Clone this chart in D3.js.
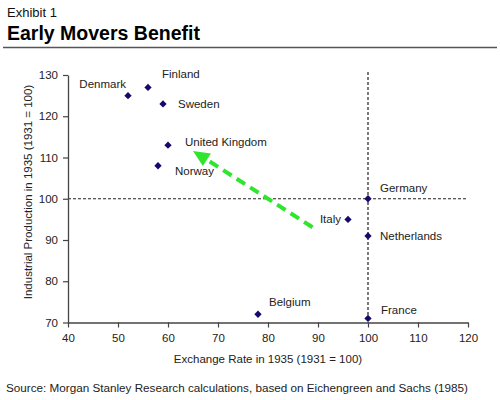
<!DOCTYPE html>
<html>
<head>
<meta charset="utf-8">
<script src="https://cdn.jsdelivr.net/npm/d3@7"></script>
<style>
  body { margin: 0; background: #fff; }
  svg { display: block; font-family: "Liberation Sans", Arial, sans-serif; }
</style>
</head>
<body>
<div id="chart"></div>
<script>
const countries = ['Denmark', 'Finland', 'Sweden', 'United Kingdom', 'Norway', 'Germany', 'Italy', 'Netherlands', 'Belgium', 'France'];
const exchangeRate = [52, 56, 59, 60, 58, 100, 96, 100, 78, 100];
const industrialProduction = [125, 127, 123, 113, 108, 100, 95, 91, 72, 71];

const xTicks = [40, 50, 60, 70, 80, 90, 100, 110, 120];
const yTicks = [70, 80, 90, 100, 110, 120, 130];

// reference lines at the 1931 level and the trend arrow (data units)
const refX = 100;
const refY = 100;
const arrowFrom = [88.9, 93.1];
const arrowTo = [65, 111.6];

const width = 500,
      height = 400,
      margins = { top: 75, right: 32, bottom: 77.5, left: 68 };

// where each label sits against its marker, in px
const labelPlace = {
  'Denmark': { dx: -2, dy: -8, anchor: 'end' },
  'Finland': { dx: 14, dy: -9, anchor: 'start' },
  'Sweden': { dx: 15, dy: 4, anchor: 'start' },
  'United Kingdom': { dx: 17, dy: 1, anchor: 'start' },
  'Norway': { dx: 17, dy: 9, anchor: 'start' },
  'Germany': { dx: 12, dy: -7, anchor: 'start' },
  'Italy': { dx: -7, dy: 4, anchor: 'end' },
  'Netherlands': { dx: 12, dy: 4, anchor: 'start' },
  'Belgium': { dx: 11, dy: -8, anchor: 'start' },
  'France': { dx: 13, dy: -4, anchor: 'start' }
};

const fontSize = '11.5px';

let $svg, $plot, x, y;

function constructChart() {
  let points = countries.map((c, i) => ({ name: c, x: exchangeRate[i], y: industrialProduction[i] }));

  x = d3.scaleLinear()
    .domain([40, 120])
    .range([margins.left, width - margins.right]);

  y = d3.scaleLinear()
    .domain([70, 130])
    .range([height - margins.bottom, margins.top]);

  $svg = d3.select('#chart').append('svg')
    .attr('width', width)
    .attr('height', height);

  // header
  $svg.append('text')
    .attr('x', 7).attr('y', 17)
    .style('font-size', '13px')
    .style('fill', '#111')
    .text('Exhibit 1');

  $svg.append('text')
    .attr('x', 7).attr('y', 40)
    .style('font-size', '19.5px')
    .style('font-weight', 'bold')
    .style('fill', '#000')
    .text('Early Movers Benefit');

  $svg.append('line')
    .attr('x1', 3).attr('x2', 497)
    .attr('y1', 47.5).attr('y2', 47.5)
    .style('stroke', '#555')
    .style('stroke-width', 1.5);

  $plot = $svg.append('g');

  // dotted reference lines
  $plot.append('line')
    .attr('x1', x(40)).attr('x2', x(120))
    .attr('y1', y(refY)).attr('y2', y(refY))
    .style('stroke', '#222')
    .style('stroke-width', 1.2)
    .style('stroke-dasharray', '3,2');

  $plot.append('line')
    .attr('x1', x(refX)).attr('x2', x(refX))
    .attr('y1', y(130) - 3).attr('y2', y(70))
    .style('stroke', '#222')
    .style('stroke-width', 1.2)
    .style('stroke-dasharray', '3,2');

  // axes
  let xAxis = $plot.append('g')
    .attr('transform', `translate(0,${y(70)})`)
    .call(d3.axisBottom(x).tickValues(xTicks).tickSize(5).tickSizeOuter(0).tickPadding(6));

  let yAxis = $plot.append('g')
    .attr('transform', `translate(${x(40)},0)`)
    .call(d3.axisLeft(y).tickValues(yTicks).tickSize(5).tickSizeOuter(0).tickPadding(5));

  [xAxis, yAxis].forEach($a => {
    $a.select('.domain').style('stroke', '#444').style('stroke-width', 1.3);
    $a.selectAll('.tick line').style('stroke', '#444').style('stroke-width', 1.2);
    $a.selectAll('.tick text')
      .style('font-family', '"Liberation Sans", Arial, sans-serif')
      .style('font-size', fontSize)
      .style('fill', '#222');
  });

  $svg.append('text')
    .attr('x', 268).attr('y', 363)
    .attr('text-anchor', 'middle')
    .style('font-size', fontSize)
    .style('fill', '#222')
    .text('Exchange Rate in 1935 (1931 = 100)');

  $svg.append('text')
    .attr('transform', 'translate(32,192) rotate(-90)')
    .attr('text-anchor', 'middle')
    .style('font-size', fontSize)
    .style('fill', '#222')
    .text('Industrial Production in 1935 (1931 = 100)');

  // green trend arrow
  let x0 = x(arrowFrom[0]), y0 = y(arrowFrom[1]);
  let x1 = x(arrowTo[0]), y1 = y(arrowTo[1]);
  let len = Math.hypot(x1 - x0, y1 - y0);
  let ux = (x1 - x0) / len, uy = (y1 - y0) / len;
  let headLen = 16.5, headHalf = 7.5;
  let bx = x1 - ux * headLen, by = y1 - uy * headLen;

  $plot.append('line')
    .attr('x1', x0).attr('y1', y0)
    .attr('x2', bx + ux * 2).attr('y2', by + uy * 2)
    .style('stroke', '#2de62d')
    .style('stroke-width', 4)
    .style('stroke-dasharray', '10,6');

  $plot.append('path')
    .attr('d', `M${x1},${y1}L${bx - uy * headHalf},${by + ux * headHalf}L${bx + uy * headHalf},${by - ux * headHalf}Z`)
    .style('fill', '#2de62d');

  // markers
  $plot.selectAll('path.pt')
    .data(points)
    .enter()
    .append('path')
    .classed('pt', true)
    .attr('d', d3.symbol().type(d3.symbolDiamond2).size(34))
    .attr('transform', d => `translate(${x(d.x)},${y(d.y)})`)
    .style('fill', '#15096b');

  $plot.selectAll('text.lbl')
    .data(points)
    .enter()
    .append('text')
    .classed('lbl', true)
    .attr('x', d => x(d.x) + labelPlace[d.name].dx)
    .attr('y', d => y(d.y) + labelPlace[d.name].dy)
    .attr('text-anchor', d => labelPlace[d.name].anchor)
    .style('font-size', fontSize)
    .style('fill', '#222')
    .text(d => d.name);

  $svg.append('text')
    .attr('x', 6).attr('y', 392)
    .style('font-size', '11.7px')
    .style('fill', '#222')
    .text('Source: Morgan Stanley Research calculations, based on Eichengreen and Sachs (1985)');
}

constructChart();
</script>
</body>
</html>
